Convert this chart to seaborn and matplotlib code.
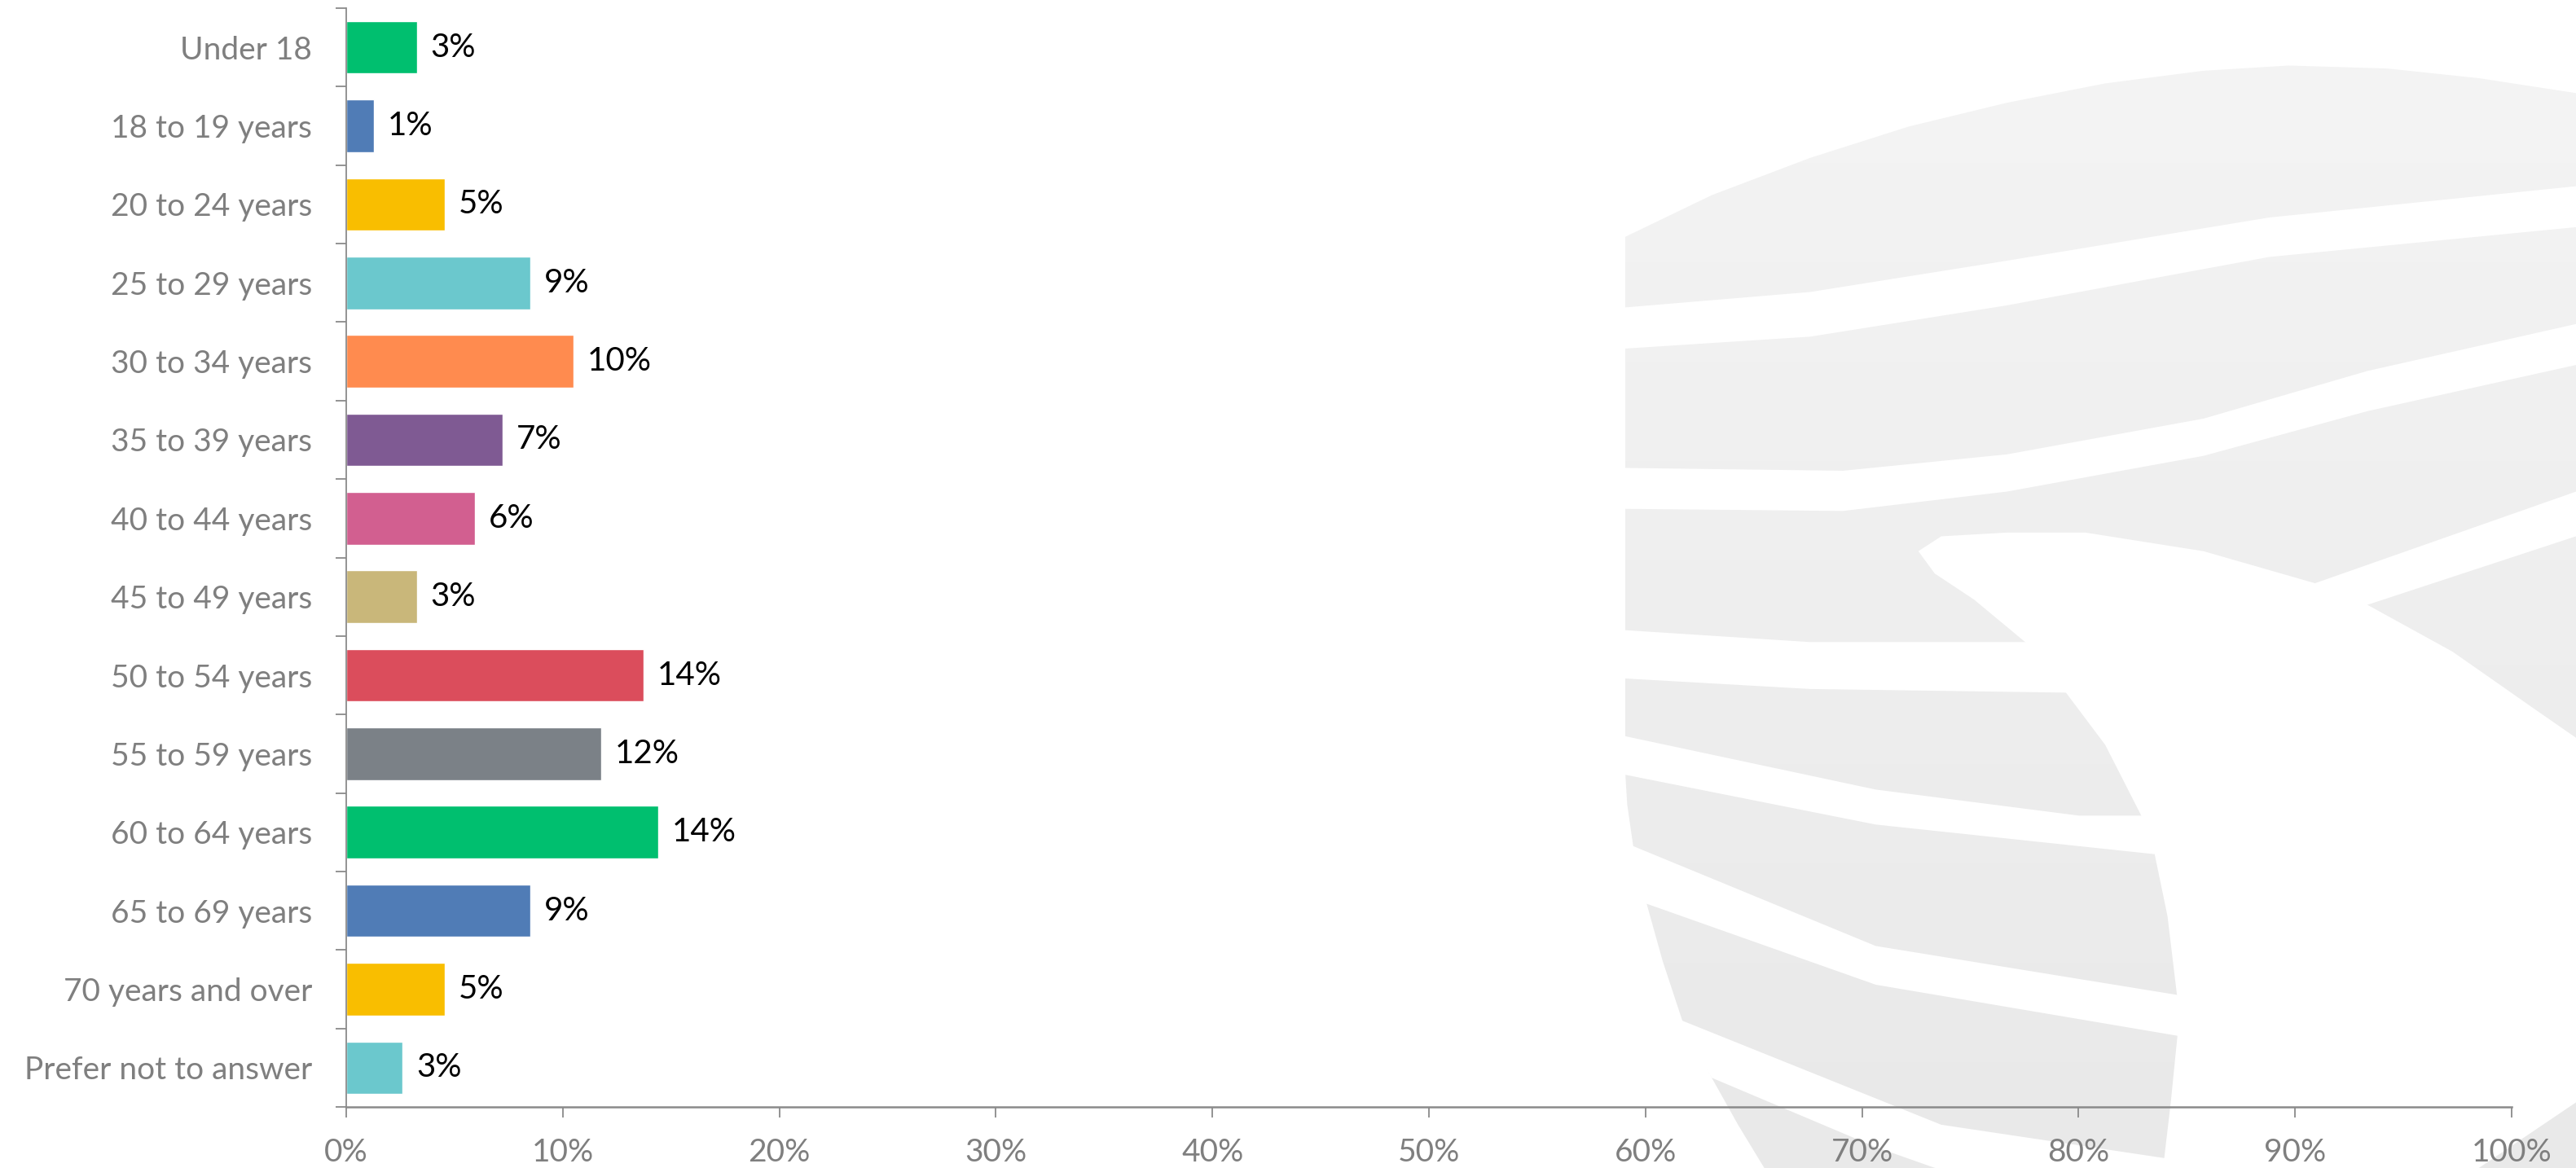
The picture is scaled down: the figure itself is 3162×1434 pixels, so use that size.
import numpy as np
import pandas as pd
import matplotlib
matplotlib.use("Agg")
import matplotlib.pyplot as plt
import seaborn as sns
from matplotlib.path import Path
from matplotlib.patches import PathPatch, Polygon
from matplotlib.colors import LinearSegmentedColormap
from matplotlib.ticker import FuncFormatter

# ---- data -------------------------------------------------------------
categories = [
    "Under 18", "18 to 19 years", "20 to 24 years", "25 to 29 years",
    "30 to 34 years", "35 to 39 years", "40 to 44 years", "45 to 49 years",
    "50 to 54 years", "55 to 59 years", "60 to 64 years", "65 to 69 years",
    "70 years and over", "Prefer not to answer",
]
shares = [3.26, 1.29, 4.57, 8.52, 10.49, 7.22, 5.94, 3.26,
          13.75, 11.77, 14.40, 8.52, 4.57, 2.61]
bar_colors = [
    "#00BF6F", "#507CB6", "#F9BE00", "#6BC8CD", "#FF8B4F", "#7F5A93",
    "#D25F90", "#C9B77A", "#DB4D5C", "#7B8187", "#00BF6F", "#507CB6",
    "#F9BE00", "#6BC8CD",
]
x_ticks = list(range(0, 101, 10))

# ---- style ------------------------------------------------------------
sns.set_theme(style="white")
plt.rcParams["font.family"] = ["Lato", "DejaVu Sans"]

W, H = 3162, 1434
fig = plt.figure(figsize=(W / 100, H / 100), dpi=100)
fig.patch.set_facecolor("white")

# ---- faint globe emblem behind the chart ------------------------------
bg = fig.add_axes([0, 0, 1, 1], zorder=-1)
bg.set_xlim(0, W)
bg.set_ylim(H, 0)
bg.axis("off")


def place(pts):
    """Map emblem outline units onto figure pixels."""
    a = np.asarray(pts, float)
    return np.column_stack([1900 + a[:, 0] / 1.2425, a[:, 1] / 1.0935])


globe_outline = [
    (118, 318), (250, 262), (400, 212), (550, 170), (700, 138), (850, 112),
    (1000, 95), (1130, 88), (1280, 92), (1420, 105), (1568, 125), (1720, 150),
    (1720, 1720), (420, 1720), (360, 1620), (330, 1568), (290, 1510),
    (250, 1447), (205, 1370), (175, 1290), (148, 1205), (130, 1135),
    (121, 1080), (118, 1037), (118, 318),
]
globe_path = Path(place(globe_outline))
globe_patch = PathPatch(globe_path, facecolor="none", edgecolor="none")
bg.add_patch(globe_patch)
shade = LinearSegmentedColormap.from_list("shade", ["#f4f4f4", "#e9e9e9"])
grad = np.linspace(0, 1, 256).reshape(-1, 1)
img = bg.imshow(grad, cmap=shade, aspect="auto",
                extent=[1980, W, H, 70], interpolation="bilinear")
img.set_clip_path(globe_patch)

stripes = [
    [(100, 414), (400, 392), (700, 350), (1100, 292), (1568, 250), (1720, 245),
     (1720, 300), (1568, 305), (1100, 345), (700, 410), (400, 452), (100, 469)],
    [(100, 628), (450, 632), (700, 610), (1000, 562), (1250, 498), (1568, 435),
     (1720, 420), (1720, 475), (1568, 490), (1250, 552), (1000, 612),
     (700, 660), (450, 686), (100, 683)],
    [(100, 845), (400, 862), (740, 862), (800, 930), (400, 925), (100, 910)],
    [(1100, 800), (1170, 783), (1568, 660), (1720, 620), (1720, 680),
     (1568, 720), (1250, 812), (1150, 850)],
    [(100, 985), (500, 1060), (810, 1095), (950, 1095), (960, 1150),
     (500, 1107), (100, 1037)],
    [(100, 1125), (500, 1270), (990, 1340), (990, 1395), (500, 1322),
     (140, 1210)],
    [(190, 1365), (600, 1510), (980, 1560), (980, 1650), (700, 1602),
     (500, 1540), (250, 1447)],
    [(565, 740), (600, 720), (700, 715), (820, 715), (1000, 740), (1170, 783),
     (1250, 812), (1380, 875), (1505, 952), (1600, 1010), (1720, 1060),
     (1720, 1400), (1568, 1480), (1420, 1568), (1400, 1720), (935, 1720),
     (940, 1555), (950, 1480), (960, 1392), (960, 1340), (945, 1230),
     (925, 1145), (905, 1095), (850, 1000), (780, 918), (728, 862),
     (650, 805), (590, 770)],
]
for s in stripes:
    bg.add_patch(Polygon(place(s), closed=True, facecolor="white",
                         edgecolor="none"))

# ---- bar chart --------------------------------------------------------
left, right, top, bottom = 425, 3083, 10, 1359
ax = fig.add_axes([left / W, 1 - bottom / H, (right - left) / W,
                   (bottom - top) / H], zorder=1)
ax.set_facecolor("none")

df = pd.DataFrame({"age": categories, "share": shares})
sns.barplot(data=df, x="share", y="age", hue="age",
            palette=dict(zip(categories, bar_colors)), legend=False,
            orient="h", width=0.67, saturation=1, ax=ax)

for cont in ax.containers:
    ax.bar_label(cont, fmt=lambda v: f"{v:.0f}%", padding=12,
                 fontsize=29, color="black")

ax.set_xlim(0, 100)
ax.set_ylim(len(categories) - 0.5, -0.5)
ax.set_xticks(x_ticks)
ax.xaxis.set_major_formatter(FuncFormatter(lambda v, _: f"{v:.0f}%"))
ax.set_yticks(np.arange(-0.5, len(categories), 1), minor=True)
ax.set_xlabel("")
ax.set_ylabel("")

ax.tick_params(axis="y", which="major", length=0, pad=30, labelsize=28,
               labelcolor="#7f7f7f")
ax.tick_params(axis="y", which="minor", left=True, length=9.5, width=1.3,
               color="#8a8a8a", direction="out")
ax.tick_params(axis="x", which="major", bottom=True, length=9.5, width=1.3,
               color="#8a8a8a", direction="out", pad=18, labelsize=28,
               labelcolor="#7f7f7f")

for side in ("top", "right"):
    ax.spines[side].set_visible(False)
ax.spines["left"].set_color("#8a8a8a")
ax.spines["left"].set_linewidth(1.3)
ax.spines["bottom"].set_color("#8a8a8a")
ax.spines["bottom"].set_linewidth(1.8)
ax.grid(False)

fig.savefig("out.png", dpi=100)
